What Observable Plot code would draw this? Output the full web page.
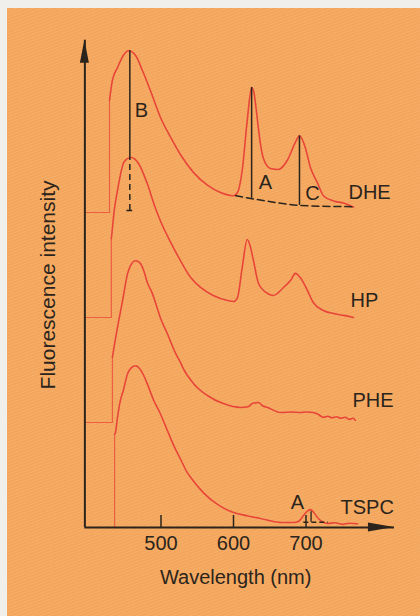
<!DOCTYPE html>
<html><head><meta charset="utf-8">
<script src="https://cdn.jsdelivr.net/npm/d3@7"></script>
<script src="https://cdn.jsdelivr.net/npm/@observablehq/plot@0.6"></script>
<style>
html,body{margin:0;padding:0;width:420px;height:616px;overflow:hidden;background:#f0efec;}
#paper{position:absolute;left:7px;top:8px;width:413px;height:608px;background:#f4a75c;
 background-image:repeating-linear-gradient(160deg,rgba(255,255,255,0.08) 0 1px,rgba(0,0,0,0) 1px 3px);}
#chart{position:absolute;left:0;top:0;}
</style></head>
<body><div id="paper"></div><div id="chart"></div>
<script>
// ---- data (wavelength in nm, intensity in arbitrary units; traces stacked) ----
const seriesNames = ["DHE", "HP", "PHE", "TSPC"];
const seriesOffsets = [300, 200, 100, 0];
const stepWL = [429, 431.5, 433, 436];   // excitation cut-on of each trace
const baseStartWL = 396;

const wlDHE = [429,433,440,448,455,465,474.5,485.5,499,513,527,545,564,582,600,605.5,612,619,625,628,631,634,637,641,651,662,674.5,685.5,691,699,706,716,724,738,752,765.5];
const intDHE = [107,126,138,149.5,154,149.5,135,116,91,72,55,38,26,19,16,19,40,88,119,115,100,82,66,52,42,41,50,67,73,62,43,28,16,11,9,5];

const wlHP = [431.5,433,435,440,448,453,459,469,481,492,499,513,527,541,554.5,572,592,600,605.5,612,619,623,627.6,634.5,647,655,669,678.6,685.5,692,702,710,724,738,752,765.5];
const intHP = [75,85,99,121,146.7,151,152.4,146.7,127.6,104.8,92.4,72,54,38,28.6,21,16.2,15.2,19,47.6,74.3,68,54,32.4,22.9,21,28.6,35.2,42,38,25.7,14.3,6.7,3.8,2,0];

const wlPHE = [433,434.5,440,447,454,458,465,471,476,481,488,495,499,508.5,520,527,531,545,564,586,610,620,626,634.5,640,647,665,680,692,700,710,716,724,730,736,742,748,754,760,765,768];
const intPHE = [62,68.6,90.5,116,142,149.5,154,152,145,133.6,123,108.6,100,85,66,57,51,37,25.7,18,14.3,15,18,19,16,14.3,9.5,10,9.5,10,9.5,8,5,6,4.5,5.5,4,5,3,4,2];

const wlTSPC = [436,437,440,444,448,454,459,465,471,476,481,490,499,509,517,527,536.5,541,558.6,580,600,620,637,665,683,690,696.5,701,706,711,717,724,730,740,750,760,771];
const intTSPC = [89,90,105,121,130.5,146.7,152,154,151,145,137,121,108.6,92,79,65,52,47.6,33,21,14.3,11,8.6,4.8,4.8,6,11.4,15,17,14,8.6,5,3.8,4.5,3,4,3.5];

// DHE annotation: dashed background line under the 630/690 nm bands
const dheDashWL = [603, 641, 692, 765];
const dheDashVal = [16, 11.4, 6.7, 5.5];
// band height markers A, C on DHE (relative to DHE trace)
const markLabels = ["A", "C"];
const markWL = [625, 691];
const markTop = [119, 73];
const markBase = [13.5, 6.8];
// B marker on DHE Soret-region emission
const bWL = 457, bTop = 154, bCross = 52.4, bBase = 1.9;
// TSPC marker A
const tspcMarkWL = 707, tspcMarkTop = 15, tspcMarkBase = 5, tspcDash = [697, 731];

// text
const annText = ["B", "A", "C", "A"];
const annWL = [473, 644, 709, 688];
const annY = [397, 328.6, 318, 23.8];
const nameWL = [758.6, 761.4, 764, 747.6];
const nameY = [319, 216, 121, 19];
const tickValues = [500, 600, 700];
const xTitle = "Wavelength (nm)";
const yTitle = "Fluorescence intensity";

// axis extents
const axisStartWL = 395, axisEndWL = 822, axisTopY = 464;

// ---- build tables ----
const wls = [wlDHE, wlHP, wlPHE, wlTSPC];
const ints = [intDHE, intHP, intPHE, intTSPC];
const curveRows = seriesNames.flatMap((n, s) => wls[s].map((w, i) => ({name: n, wl: w, y: seriesOffsets[s] + ints[s][i]})));
const stepRows = seriesNames.flatMap((n, s) => [
  {name: n, wl: baseStartWL, y: seriesOffsets[s]},
  {name: n, wl: stepWL[s], y: seriesOffsets[s]},
  {name: n, wl: stepWL[s], y: seriesOffsets[s] + ints[s][0]}
]);
const dheOff = seriesOffsets[0];
const dashRows = dheDashWL.map((w, i) => ({wl: w, y: dheOff + dheDashVal[i]}));
const markRows = markWL.map((w, i) => ({wl: w, y1: dheOff + markBase[i], y2: dheOff + markTop[i]}));

const red = "#e8453a", ink = "#2b241c";
const font = "'Liberation Sans', Arial, Helvetica, sans-serif";

const chart = Plot.plot({
  width: 420, height: 616,
  marginLeft: 88, marginRight: 42, marginTop: 2, marginBottom: 89,
  x: {domain: [400, 800], axis: null},
  y: {domain: [0, 500], axis: null},
  style: {background: "transparent", color: ink, fontFamily: font, fontSize: "20px", overflow: "visible"},
  marks: [
    Plot.line(stepRows, {x: "wl", y: "y", z: "name", stroke: red, strokeWidth: 1.2, strokeOpacity: 0.75}),
    Plot.line(curveRows, {x: "wl", y: "y", z: "name", stroke: red, strokeWidth: 1.6, curve: "monotone-x"}),
    Plot.line(dashRows, {x: "wl", y: "y", stroke: ink, strokeWidth: 1.5, strokeDasharray: "7,4", curve: "monotone-x"}),
    Plot.ruleX(markRows, {x: "wl", y1: "y1", y2: "y2", stroke: ink, strokeWidth: 1.5}),
    Plot.ruleX([bWL], {x: d => d, y1: d => dheOff + bCross, y2: d => dheOff + bTop, stroke: ink, strokeWidth: 1.5}),
    Plot.ruleX([bWL], {x: d => d, y1: d => dheOff + bBase, y2: d => dheOff + bCross, stroke: ink, strokeWidth: 1.5, strokeDasharray: "6,4"}),
    Plot.ruleY([dheOff + bBase], {y: d => d, x1: d => bWL - 4, x2: d => bWL + 4, stroke: ink, strokeWidth: 1.5}),
    Plot.ruleX([tspcMarkWL], {x: d => d, y1: d => tspcMarkBase, y2: d => tspcMarkTop, stroke: ink, strokeWidth: 1.3}),
    Plot.ruleY([tspcMarkBase], {y: d => d, x1: d => tspcDash[0], x2: d => tspcDash[1], stroke: ink, strokeWidth: 1.3, strokeDasharray: "5,3"}),
    // axes
    Plot.ruleY([0], {y: d => d, x1: d => axisStartWL, x2: d => axisEndWL, stroke: ink, strokeWidth: 2}),
    Plot.ruleX([axisStartWL], {x: d => d, y1: d => 0, y2: d => axisTopY, stroke: ink, strokeWidth: 2}),
    Plot.ruleX(tickValues, {x: d => d, y1: d => 0, y2: d => 11.4, stroke: ink, strokeWidth: 1.5}),
    Plot.text(tickValues, {x: d => d, y: d => -15.2, text: d => String(d), fill: ink, fontSize: 20}),
    Plot.text([xTitle], {x: d => 603, y: d => -47.6, text: d => d, fill: ink, fontSize: 20}),
    Plot.text([yTitle], {x: d => 345, y: d => 231, text: d => d, fill: ink, fontSize: 21, rotate: -90}),
    Plot.text(seriesNames, {x: (d, i) => nameWL[i], y: (d, i) => nameY[i], text: d => d, fill: ink, fontSize: 20, textAnchor: "start"}),
    Plot.text(annText, {x: (d, i) => annWL[i], y: (d, i) => annY[i], text: d => d, fill: ink, fontSize: 20})
  ]
});

// filled arrowheads on the axes
const sx = chart.scale("x"), sy = chart.scale("y");
const g = d3.select(chart).append("g").attr("fill", ink);
const xt = sx.apply(axisEndWL), xy = sy.apply(0);
g.append("path").attr("d", `M${xt},${xy}L${xt - 26},${xy - 4.5}L${xt - 26},${xy + 4.5}Z`);
const yx = sx.apply(axisStartWL), yt = sy.apply(axisTopY);
g.append("path").attr("d", `M${yx},${yt}L${yx - 4.5},${yt + 23}L${yx + 4.5},${yt + 23}Z`);

document.getElementById("chart").appendChild(chart);
</script>
</body></html>
